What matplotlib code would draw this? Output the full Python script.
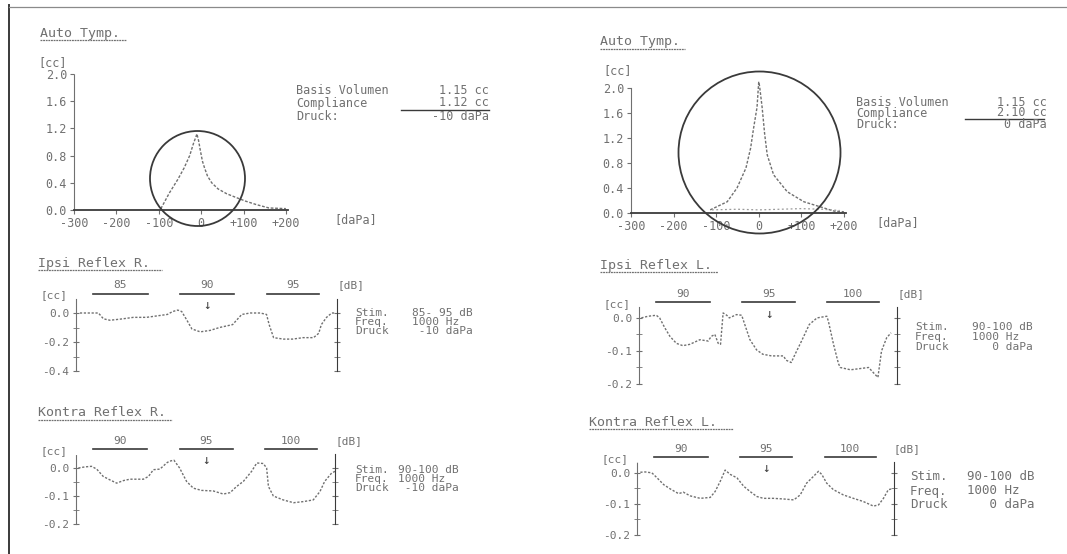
import matplotlib.pyplot as plt
import matplotlib.transforms as mtransforms

W, H = 1067, 554
plt.rcParams['font.family'] = ['DejaVu Sans Mono', 'DejaVu Sans']
ink = '#707070'   # Druckerfarbe Text / Kurven
dark = '#3a3a3a'  # Achsen, Kreise

# ---- Tympanogramme ----
tymp_r_p = [-95, -75, -55, -40, -27, -18, -12, -10, -6, -2, 3, 8, 15, 25, 40, 60, 80, 105, 130, 160, 200]
tymp_r_v = [0.02, 0.25, 0.45, 0.62, 0.80, 0.98, 1.08, 1.12, 1.02, 0.88, 0.72, 0.62, 0.50, 0.40, 0.31, 0.24, 0.19, 0.13, 0.08, 0.03, 0.02]
tymp_l_p = [-114, -74, -51, -30, -19, -12, -4, 0, 2, 8, 14, 20, 35, 67, 106, 144, 177, 200]
tymp_l_v = [0.05, 0.18, 0.40, 0.72, 1.04, 1.36, 1.69, 2.10, 2.03, 1.69, 1.26, 0.93, 0.61, 0.34, 0.18, 0.10, 0.03, 0.02]
tymp_l_ret_p = [-110, -50, 0, 50, 100, 150, 190]
tymp_l_ret_v = [0.05, 0.06, 0.05, 0.06, 0.07, 0.06, 0.04]
tymp_yticks = [0.0, 0.4, 0.8, 1.2, 1.6, 2.0]
tymp_ylabels = ['0.0', '0.4', '0.8', '1.2', '1.6', '2.0']
tymp_xticks = [-300, -200, -100, 0, 100, 200]
tymp_xlabels = ['-300', '-200', '-100', '0', '+100', '+200']

# ---- Reflexe (t in % der Messzeit, Werte in cc) ----
stim_on = [6.5, 40, 73]
stim_off = [27.5, 60.5, 93]

ipsi_r_t = [1.5, 8.6, 10.5, 13, 15.6, 18, 22, 27, 31, 35, 37, 39, 40.5, 42.5, 44.4, 47.6, 51.4, 55, 60, 62,
            63.5, 66.8, 70.6, 73, 74, 75.7, 79.5, 83, 87, 91, 93, 94, 96, 98, 99.4]
ipsi_r_v = [0.0, 0.0, -0.04, -0.05, -0.045, -0.04, -0.03, -0.03, -0.02, -0.01, 0.01, 0.02, 0.01, -0.05, -0.11,
            -0.13, -0.12, -0.10, -0.08, -0.04, -0.01, 0.0, 0.0, -0.01, -0.08, -0.17, -0.18, -0.18, -0.17,
            -0.17, -0.14, -0.08, -0.03, 0.0, 0.0]
ipsi_r_levels = ['85', '90', '95']

kontra_r_t = [0.9, 3.5, 6, 8, 10.5, 13, 15.7, 18.3, 20.8, 26, 28, 29.9, 32.4, 35, 36, 37.8, 40, 42.7, 45.3,
              48.5, 53, 56.9, 59.5, 62, 64.6, 67.8, 69.8, 72.3, 73.6, 74.3, 76.2, 80, 84, 87.8, 91.6, 94.2,
              96, 98.7, 100]
kontra_r_v = [0.0, 0.004, 0.006, -0.004, -0.03, -0.042, -0.054, -0.045, -0.04, -0.04, -0.03, -0.006, -0.004,
              0.018, 0.024, 0.028, 0.0, -0.048, -0.072, -0.08, -0.082, -0.093, -0.088, -0.066, -0.048, -0.012,
              0.018, 0.016, 0.0, -0.066, -0.10, -0.114, -0.124, -0.12, -0.114, -0.084, -0.048, -0.018, -0.012]
kontra_r_levels = ['90', '95', '100']

ipsi_l_t = [0.9, 3.5, 6.7, 8, 10, 12, 14.5, 17, 19.7, 23.6, 26.8, 28, 29.4, 30.7, 31.6, 32.6, 34, 35, 37.8,
            39.8, 41, 43, 45.6, 48, 51.4, 56, 57, 59, 60.5, 63, 66, 69, 72.8, 73.4, 75.4, 77.3, 78, 82, 89,
            91, 92.6, 94, 96, 97.7]
ipsi_l_v = [0.0, 0.005, 0.008, 0.0, -0.03, -0.056, -0.077, -0.084, -0.08, -0.066, -0.07, -0.056, -0.05, -0.077,
            -0.08, 0.015, 0.008, 0.0, 0.01, 0.008, -0.02, -0.066, -0.097, -0.11, -0.115, -0.115, -0.128,
            -0.135, -0.11, -0.07, -0.02, 0.0, 0.005, -0.01, -0.08, -0.138, -0.15, -0.157, -0.15, -0.167,
            -0.18, -0.10, -0.06, -0.045]
ipsi_l_levels = ['90', '95', '100']

kontra_l_t = [1.3, 3.2, 5.8, 7.8, 10.4, 13, 16.2, 18, 20.7, 24.6, 28.5, 30.4, 32.4, 34.3, 36.3, 38.9, 41.5,
              44, 46.6, 49.2, 53, 57, 61, 63.5, 66, 68.7, 70.6, 71.9, 73.8, 76.4, 80.3, 84.2, 88, 92, 94,
              95.9, 97.8, 99]
kontra_l_v = [0.002, 0.003, 0.0, -0.016, -0.038, -0.052, -0.067, -0.062, -0.074, -0.082, -0.079, -0.06,
              -0.027, 0.009, -0.005, -0.016, -0.043, -0.06, -0.076, -0.082, -0.082, -0.084, -0.087, -0.071,
              -0.033, -0.011, 0.005, -0.005, -0.033, -0.054, -0.071, -0.082, -0.092, -0.107, -0.103, -0.082,
              -0.054, -0.052]
kontra_l_levels = ['90', '95', '100']

info_labels_tymp = ['Basis Volumen', 'Compliance', 'Druck:']
info_r_tymp = ['1.15 cc', '1.12 cc', '-10 daPa']
info_l_tymp = ['1.15 cc', '2.10 cc', '0 daPa']
info_labels_refl = ['Stim.', 'Freq.', 'Druck']
info_ipsi_r = ['85- 95 dB', '1000 Hz', ' -10 daPa']
info_kontra_r = ['90-100 dB', '1000 Hz', ' -10 daPa']
info_ipsi_l = ['90-100 dB', '1000 Hz', '   0 daPa']
info_kontra_l = ['90-100 dB', '1000 Hz', '   0 daPa']


def rect(x0, y0, x1, y1):
    return [x0 / W, 1 - y1 / H, (x1 - x0) / W, (y1 - y0) / H]


fig = plt.figure(figsize=(W / 100, H / 100), dpi=100)
page = fig.add_axes([0, 0, 1, 1])
page.set_xlim(0, W)
page.set_ylim(H, 0)
page.axis('off')

# Blattrand
page.plot([9, 9], [5, H], color=dark, lw=1.4)
page.plot([9, W], [7, 7], color='#8a8a8a', lw=0.9)


def title(x, y, s, x1, size=9.5):
    page.text(x, y, s, fontsize=size, color=ink, va='center', ha='left')
    page.plot([x, x1], [y + 7, y + 7], color=ink, lw=0.9, ls=(0, (1.5, 0.6)))


def info(x, xv, ys, labels, values, size=8, align='left'):
    for y, a, b in zip(ys, labels, values):
        page.text(x, y, a, fontsize=size, color=ink, va='center')
        page.text(xv, y, b, fontsize=size, color=ink, va='center', ha=align)


def tymp(rect_px, p, v, circ, diam, ret=None):
    ax = fig.add_axes(rect(*rect_px))
    ax.patch.set_alpha(0)
    ax.plot(p, v, color=ink, lw=1, ls=(0, (2, 1.2)), clip_on=False)
    if ret is not None:
        ax.plot(ret[0], ret[1], color='#9a9a9a', lw=0.9, ls=(0, (1.5, 2)))
    ax.plot([circ[0]], [circ[1]], marker='o', ms=diam * 0.72, mfc='none', mec=dark, mew=1.3, clip_on=False)
    ax.set_xlim(-300, 205)
    ax.set_ylim(0, 2.0)
    ax.spines[['top', 'right']].set_visible(False)
    ax.spines['bottom'].set_color(dark)
    ax.spines['bottom'].set_linewidth(1.3)
    ax.spines['left'].set_color(ink)
    ax.spines['left'].set_linestyle((0, (2, 1)))
    ax.set_yticks(tymp_yticks, tymp_ylabels)
    ax.set_xticks(tymp_xticks, tymp_xlabels)
    ax.tick_params(labelsize=8.5, colors=ink, length=3, pad=2)
    return ax


def reflex(rect_px, t, v, ylim, yticks, ylabels, minor, levels):
    ax = fig.add_axes(rect(*rect_px))
    ax.patch.set_alpha(0)
    ax.plot(t, v, color=ink, lw=1, ls=(0, (1.6, 1.2)))
    ax.set_xlim(0, 100)
    ax.set_ylim(*ylim)
    ax.spines[['top', 'bottom']].set_visible(False)
    ax.spines['left'].set_color(ink)
    ax.spines['left'].set_linestyle((0, (2, 1)))
    ax.spines['right'].set_color(dark)
    ax.set_xticks([])
    ax.set_yticks(yticks, ylabels)
    ax.set_yticks(minor, minor=True)
    ax.yaxis.set_ticks_position('both')
    ax.tick_params(axis='y', which='both', direction='inout', length=4, labelsize=8, colors=ink, pad=3)

    def up(px, base=None):
        base = ax.get_xaxis_transform() if base is None else base
        return base + mtransforms.ScaledTranslation(0, px / 100, fig.dpi_scale_trans)

    for a, b, lev in zip(stim_on, stim_off, levels):
        ax.plot([a, b], [1, 1], color=dark, lw=1.2, transform=up(5), clip_on=False)
        ax.text((a + b) / 2, 1, lev, transform=up(13), fontsize=8, color=ink, ha='center', va='center')
    ax.text((stim_on[1] + stim_off[1]) / 2, 1, '\u2193', transform=up(-7), fontsize=9, color=dark,
            ha='center', va='center')
    ax.text(1.0, 1, '[dB]', transform=up(13, ax.transAxes), fontsize=8, color=ink, ha='left', va='center')
    ax.text(0, 1, '[cc]', transform=ax.transAxes + mtransforms.ScaledTranslation(-0.36, 0.03, fig.dpi_scale_trans),
            fontsize=8, color=ink, ha='left', va='center')
    return ax


# oben links: Tympanogramm rechtes Ohr
title(40, 33, 'Auto Tymp.', 126)
page.text(38, 63, '[cc]', fontsize=8.5, color=ink, va='center')
tymp((74, 74, 288, 210), tymp_r_p, tymp_r_v, (-10, 0.47), 95)
page.text(334, 220, '[daPa]', fontsize=8.5, color=ink, va='center')
info(296, 489, [90, 103, 116], info_labels_tymp, info_r_tymp, size=8.5, align='right')
page.plot([401, 489], [109.5, 109.5], color=dark, lw=1)

# oben rechts: Tympanogramm linkes Ohr
title(600, 42, 'Auto Tymp.', 685)
page.text(603, 71, '[cc]', fontsize=8.5, color=ink, va='center')
tymp((631, 88, 846, 213), tymp_l_p, tymp_l_v, (0, 0.98), 162, ret=(tymp_l_ret_p, tymp_l_ret_v))
page.text(876, 223, '[daPa]', fontsize=8.5, color=ink, va='center')
info(856, 1047, [102, 113, 124], info_labels_tymp, info_l_tymp, size=8.5, align='right')
page.plot([965, 1044], [119, 119], color=dark, lw=1)

# Ipsi Reflex R.
title(38, 263, 'Ipsi Reflex R.', 162)
reflex((76, 298.5, 337, 371), ipsi_r_t, ipsi_r_v, (-0.4, 0.1), [0.0, -0.2, -0.4], ['0.0', '-0.2', '-0.4'],
       [-0.1, -0.3], ipsi_r_levels)
info(355, 412, [313, 322, 331], info_labels_refl, info_ipsi_r)

# Kontra Reflex R.
title(38, 413, 'Kontra Reflex R.', 172)
reflex((76, 454, 335, 524), kontra_r_t, kontra_r_v, (-0.2, 0.05), [0.0, -0.1, -0.2], ['0.0', '-0.1', '-0.2'],
       [-0.05, -0.15], kontra_r_levels)
info(355, 398, [470, 479, 488], info_labels_refl, info_kontra_r)

# Ipsi Reflex L.
title(600, 265, 'Ipsi Reflex L.', 718)
reflex((639, 307, 897, 384), ipsi_l_t, ipsi_l_v, (-0.2, 0.033), [0.0, -0.1, -0.2], ['0.0', '-0.1', '-0.2'],
       [-0.05, -0.15], ipsi_l_levels)
info(915, 972, [327, 337, 347], info_labels_refl, info_ipsi_l)

# Kontra Reflex L.
title(589, 422, 'Kontra Reflex L.', 733)
reflex((637, 462, 894, 535), kontra_l_t, kontra_l_v, (-0.2, 0.035), [0.0, -0.1, -0.2], ['0.0', '-0.1', '-0.2'],
       [-0.05, -0.15], kontra_l_levels)
info(910, 967, [477, 491, 505], info_labels_refl, info_kontra_l, size=9)

fig.savefig('out.png', dpi=100, facecolor='white')
